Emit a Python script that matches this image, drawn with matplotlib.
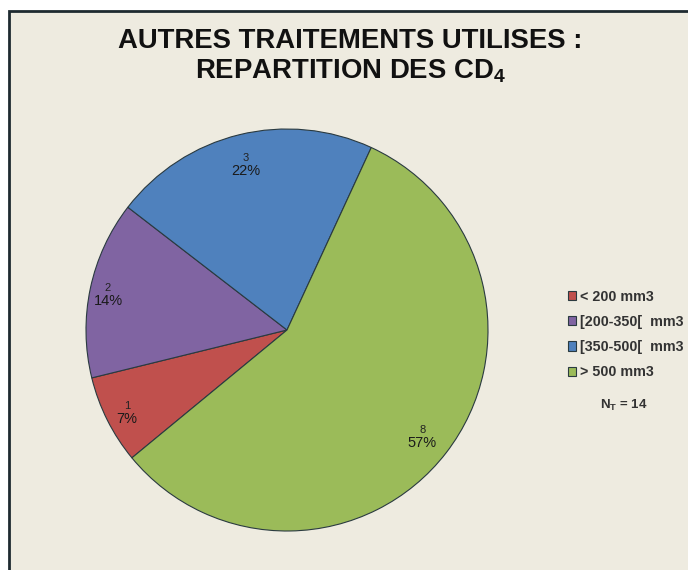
import numpy as np
import matplotlib.pyplot as plt
from matplotlib.patches import Rectangle

plt.rcParams['font.family'] = ['Liberation Sans', 'DejaVu Sans']
plt.rcParams['mathtext.fontset'] = 'custom'
plt.rcParams['mathtext.rm'] = 'Liberation Sans'
plt.rcParams['mathtext.bf'] = 'Liberation Sans:bold'

categories = ["< 200 mm3", "[200-350[  mm3", "[350-500[  mm3", "> 500 mm3"]
counts = [1, 2, 3, 8]
percents = [7, 14, 22, 57]
colors = ["#C0504D", "#8064A2", "#4F81BD", "#9BBB59"]
total = 14

W, H = 688, 570
fig = plt.figure(figsize=(W / 100, H / 100), dpi=100, facecolor="white")

# chart area background with dark border
fig.patches.append(Rectangle((9 / W, -0.1), 1.2, 1 - 11 / H + 0.1, transform=fig.transFigure,
                             facecolor="#EEEBE0", edgecolor="#1E2A30", linewidth=2.0, zorder=-5))

fig.text(350 / W, 1 - 41 / H, "AUTRES TRAITEMENTS UTILISES :", ha="center", va="center",
         fontsize=19.8, fontweight="bold", color="#111111")
fig.text(350 / W, 1 - 71 / H, "REPARTITION DES CD$_\\mathbf{4}$", ha="center", va="center",
         fontsize=19.8, fontweight="bold", color="#111111")

cx, cy, r = 287, 330, 201
ax = fig.add_axes([(cx - r) / W, (H - cy - r) / H, 2 * r / W, 2 * r / H])
wedges, _ = ax.pie(counts, colors=colors, startangle=219.5, counterclock=False, radius=1,
                   wedgeprops=dict(edgecolor="#2A3A40", linewidth=0.8))
ax.set_xlim(-1.0, 1.0)
ax.set_ylim(-1.0, 1.0)
ax.set_aspect("auto")
ax.axis("off")

# count above, percentage below, placed near the rim of each slice
dists = [0.89, 0.91, 0.86, 0.85]
for w, n, p, d in zip(wedges, counts, percents, dists):
    mid = np.deg2rad((w.theta1 + w.theta2) / 2)
    x, y = d * np.cos(mid), d * np.sin(mid)
    ax.text(x, y - 0.005, str(n), ha="center", va="bottom", fontsize=8, color="#222222")
    ax.text(x, y - 0.01, f"{p}%", ha="center", va="top", fontsize=10.5, color="#1a1a1a")

leg = fig.legend(wedges, categories, loc="upper left", bbox_to_anchor=(562 / W, 1 - 284 / H),
                 frameon=False, handlelength=0.6, handleheight=0.6, handletextpad=0.25,
                 labelspacing=0.78, prop=dict(size=10.3, weight="bold"), borderaxespad=0)
for t in leg.get_texts():
    t.set_color("#333333")

fig.text(600 / W, 1 - 405 / H, "N$_\\mathbf{T}$ = 14", ha="left", va="center",
         fontsize=9.5, fontweight="bold", color="#333333")

fig.savefig("out.png", dpi=100, facecolor="white")
